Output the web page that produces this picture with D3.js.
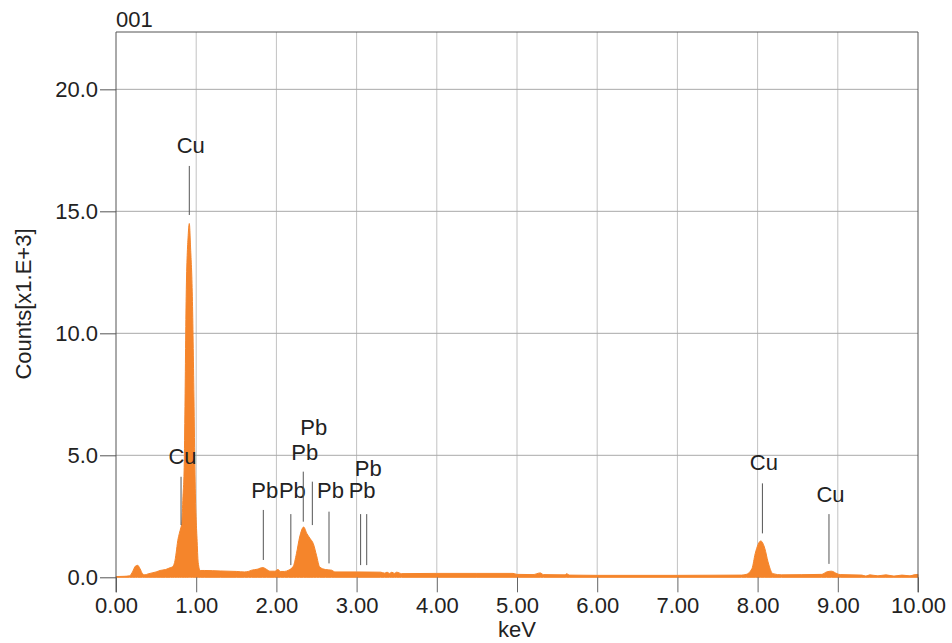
<!DOCTYPE html>
<html>

<head>
	<meta charset="utf-8">
	<script src="https://cdn.jsdelivr.net/npm/d3@7"></script>
	<style>
		body {
			margin: 0;
			background: #fff;
		}

		text {
			font-family: "Liberation Sans", Arial, sans-serif;
			font-size: 22px;
			fill: #222;
		}

		.spectrum {
			fill: #f5852b;
			stroke: #f5852b;
			stroke-width: 1;
		}
	</style>
</head>

<body>
	<svg></svg>
	<script>
		// spectrum, counts in thousands
		var energy = [0.00, 0.10, 0.17, 0.21, 0.24, 0.27, 0.30, 0.33, 0.36, 0.40, 0.45, 0.50, 0.55, 0.62, 0.68,
			0.70, 0.73, 0.75, 0.77, 0.79, 0.81, 0.82, 0.835, 0.85, 0.86, 0.875, 0.90, 0.914, 0.93, 0.952,
			0.972, 0.985, 0.998, 1.01, 1.025, 1.05, 1.10, 1.30, 1.50, 1.60,
			1.65, 1.69, 1.76, 1.83, 1.88, 1.92, 1.98, 2.02, 2.05, 2.10, 2.15, 2.21, 2.25, 2.29, 2.34,
			2.38, 2.42, 2.46, 2.50, 2.54, 2.61, 2.69, 2.73, 3.00, 3.30,
			3.35, 3.38, 3.41, 3.44, 3.47, 3.50, 3.53, 3.56, 4.00, 4.50, 4.95, 5.00, 5.20, 5.29, 5.33,
			5.60, 5.62, 5.65, 6.00, 7.00, 7.80, 7.86, 7.93, 7.97, 8.04, 8.09, 8.13, 8.19, 8.30,
			8.80, 8.86, 8.92, 8.99, 9.03, 9.30, 9.35, 9.40, 9.50, 9.60, 9.70, 9.80, 9.90, 9.95, 10.00];
		var counts = [0.03, 0.04, 0.06, 0.25, 0.45, 0.49, 0.35, 0.15, 0.10, 0.14, 0.18, 0.22, 0.28, 0.32, 0.40,
			0.42, 0.60, 1.00, 1.50, 1.80, 2.05, 2.20, 3.30, 4.50, 7.00, 11.5, 14.0, 14.5, 13.5, 11.5,
			7.4, 4.2, 2.5, 1.6, 0.6, 0.28, 0.28, 0.26, 0.24, 0.22,
			0.24, 0.29, 0.33, 0.40, 0.32, 0.25, 0.25, 0.32, 0.24, 0.24, 0.29, 0.45, 0.97, 1.65, 2.06,
			1.79, 1.59, 1.38, 0.90, 0.42, 0.32, 0.29, 0.22, 0.22, 0.21,
			0.17, 0.21, 0.16, 0.21, 0.16, 0.21, 0.18, 0.15, 0.16, 0.16, 0.16, 0.12, 0.11, 0.18, 0.11,
			0.10, 0.15, 0.09, 0.08, 0.08, 0.09, 0.12, 0.36, 0.97, 1.49, 1.18, 0.63, 0.15, 0.10,
			0.12, 0.22, 0.25, 0.15, 0.11, 0.09, 0.05, 0.10, 0.06, 0.10, 0.05, 0.09, 0.06, 0.10, 0.12];

		// element markers: line from markerLow to markerHigh, label baseline at markerText
		var markerKeV = [0.914, 0.811, 1.837, 2.18, 2.335, 2.448, 2.656, 3.05, 3.126, 8.06, 8.89];
		var markerName = ["Cu", "Cu", "Pb", "Pb", "Pb", "Pb", "Pb", "Pb", "Pb", "Cu", "Cu"];
		var markerLow = [14.85, 2.14, 0.71, 0.50, 2.28, 2.14, 0.57, 0.50, 0.50, 1.80, 0.55];
		var markerHigh = [16.86, 4.12, 2.76, 2.59, 4.33, 3.92, 2.69, 2.59, 2.59, 3.85, 2.59];
		var markerText = [17.39, 4.64, 3.25, 3.25, 4.81, 5.83, 3.25, 3.25, 4.15, 4.40, 3.09];

		var xTicks = [0, 1, 2, 3, 4, 5, 6, 7, 8, 9, 10];
		var yTicks = [0, 5, 10, 15, 20];

		var width = 952, height = 643;
		var plotLeft = 116, plotRight = 918, plotTop = 32, plotBase = 577.3;

		var svg = d3.select('svg')
			.attr("width", width)
			.attr("height", height);

		var x = d3.scaleLinear().domain([0, 10]).range([plotLeft, plotRight]);
		var y = d3.scaleLinear().domain([0, 22.35]).range([plotBase, plotTop]);

		// grid
		svg.append("g")
			.selectAll("line")
			.data(xTicks.slice(1, -1))
			.enter()
			.append("line")
			.attr("x1", d => x(d)).attr("x2", d => x(d))
			.attr("y1", plotTop).attr("y2", plotBase)
			.attr("stroke", "#c2c2c2");
		svg.append("g")
			.selectAll("line")
			.data(yTicks.slice(1))
			.enter()
			.append("line")
			.attr("x1", plotLeft).attr("x2", plotRight)
			.attr("y1", d => y(d)).attr("y2", d => y(d))
			.attr("stroke", "#a9a9a9");

		var area = d3.area()
			.x((d, i) => x(energy[i]))
			.y0(y(0))
			.y1(d => y(d))
			.curve(d3.curveMonotoneX);

		svg.append("path")
			.datum(counts)
			.attr("class", "spectrum")
			.attr("d", area);

		// axes
		var xAxis = svg.append("g")
			.attr("transform", "translate(0," + plotBase + ")")
			.call(d3.axisBottom(x).tickValues(xTicks).tickFormat(d3.format(".2f"))
				.tickSize(15).tickSizeOuter(0).tickPadding(5));
		xAxis.select(".domain").remove();
		xAxis.selectAll("line").attr("stroke", "#666");

		var yAxis = svg.append("g")
			.attr("transform", "translate(" + plotLeft + ",0)")
			.call(d3.axisLeft(y).tickValues(yTicks).tickFormat(d3.format(".1f"))
				.tickSize(16).tickSizeOuter(0).tickPadding(2));
		yAxis.select(".domain").remove();
		yAxis.selectAll("line").attr("stroke", "#555");
		svg.selectAll(".tick text").attr("fill", null);

		// frame
		svg.append("path")
			.attr("d", "M" + plotLeft + "," + (plotBase + 15) + "V" + plotTop + "H" + plotRight + "V" + (plotBase + 15))
			.attr("fill", "none")
			.attr("stroke", "#555");

		// markers
		var marks = svg.append("g")
			.selectAll("g")
			.data(markerKeV)
			.enter()
			.append("g");
		marks.append("line")
			.attr("x1", d => x(d)).attr("x2", d => x(d))
			.attr("y1", (d, i) => y(markerLow[i]))
			.attr("y2", (d, i) => y(markerHigh[i]))
			.attr("stroke", "#555");
		marks.append("text")
			.attr("x", d => x(d) + 1.5)
			.attr("y", (d, i) => y(markerText[i]))
			.attr("text-anchor", "middle")
			.text((d, i) => markerName[i]);

		svg.append("text")
			.attr("x", plotLeft)
			.attr("y", 27)
			.text("001");

		svg.append("text")
			.attr("x", (plotLeft + plotRight) / 2)
			.attr("y", 637)
			.attr("text-anchor", "middle")
			.text("keV");

		svg.append("text")
			.attr("transform", "translate(31," + 304 + ") rotate(-90)")
			.attr("text-anchor", "middle")
			.text("Counts[x1.E+3]");
	</script>
</body>

</html>
